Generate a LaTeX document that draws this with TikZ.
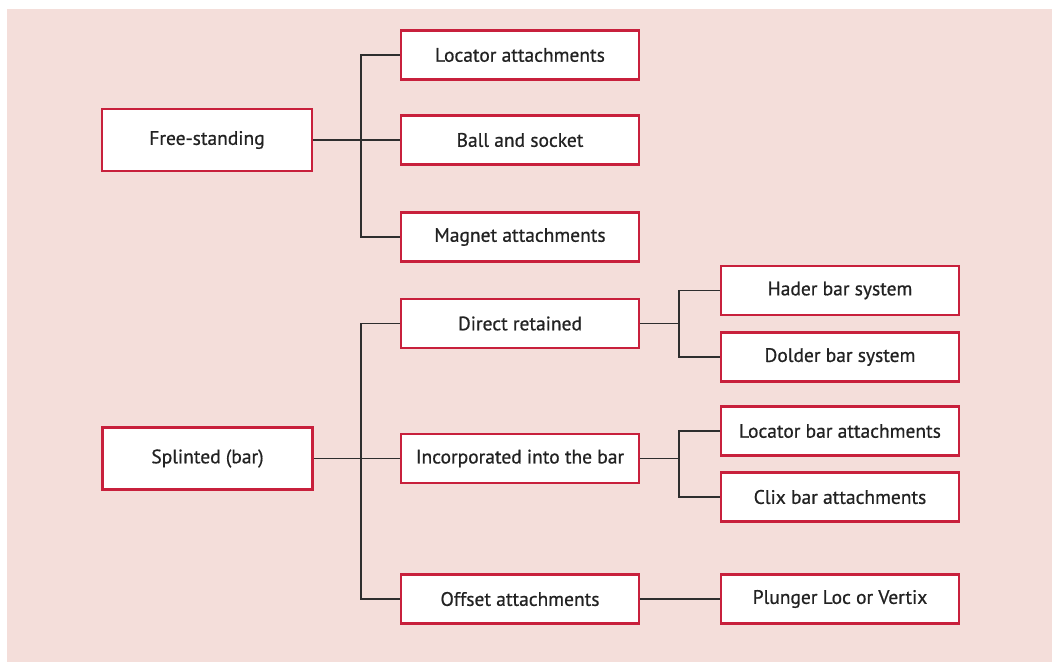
\documentclass[tikz,border=0pt]{standalone}
\usepackage{fontspec}
\setmainfont{PT Sans}[FakeBold=0.7]
\definecolor{bgpink}{HTML}{F4DEDA}
\definecolor{boxred}{HTML}{C8203C}
\definecolor{linegray}{HTML}{2E2E2E}
\definecolor{txt}{HTML}{222222}
\begin{document}
\begin{tikzpicture}[x=1pt,y=-1pt,
  box/.style={draw=boxred, line width=2.6pt, fill=white, inner sep=0pt,
    font=\fontsize{19.5}{22}\selectfont, text=txt},
  lbox/.style={box, minimum width=210pt, minimum height=62pt},
  mbox/.style={box, minimum width=238pt, minimum height=49pt},
  conn/.style={draw=linegray, line width=1.3pt}]
\useasboundingbox (0,0) rectangle (1052,662);
\fill[bgpink] (7,9) rectangle (1052,662);
% left boxes
\node[lbox] (free) at (207,140) {Free-standing};
\node[lbox] (splint) at (207.5,458.5) {Splinted (bar)};
% middle boxes
\node[mbox] (loc) at (520,55) {Locator attachments};
\node[mbox] (ball) at (520,140) {Ball and socket};
\node[mbox] (mag) at (520,237) {Magnet attachments};
\node[mbox] (direct) at (520,323.5) {Direct retained};
\node[mbox] (incorp) at (520,458.5) {Incorporated into the bar};
\node[mbox] (offset) at (520,599) {Offset attachments};
% right boxes
\node[mbox] (hader) at (840,290.5) {Hader bar system};
\node[mbox] (dolder) at (840,357) {Dolder bar system};
\node[mbox] (locbar) at (840,431) {Locator bar attachments};
\node[mbox] (clix) at (840,497) {Clix bar attachments};
\node[mbox] (plunger) at (840,599) {Plunger Loc or Vertix};
% junctions
\coordinate (j1) at (361,140);
\coordinate (j2) at (361,458.5);
\coordinate (j3) at (679,323.5);
\coordinate (j4) at (679,458.5);
% connectors
\draw[conn] (free.east) -- (j1);
\draw[conn] (j1) |- (loc.west);
\draw[conn] (j1) -- (ball.west);
\draw[conn] (j1) |- (mag.west);
\draw[conn] (splint.east) -- (j2);
\draw[conn] (j2) |- (direct.west);
\draw[conn] (j2) -- (incorp.west);
\draw[conn] (j2) |- (offset.west);
\draw[conn] (direct.east) -- (j3);
\draw[conn] (j3) |- (hader.west);
\draw[conn] (j3) |- (dolder.west);
\draw[conn] (incorp.east) -- (j4);
\draw[conn] (j4) |- (locbar.west);
\draw[conn] (j4) |- (clix.west);
\draw[conn] (offset.east) -- (plunger.west);
\end{tikzpicture}
\end{document}
